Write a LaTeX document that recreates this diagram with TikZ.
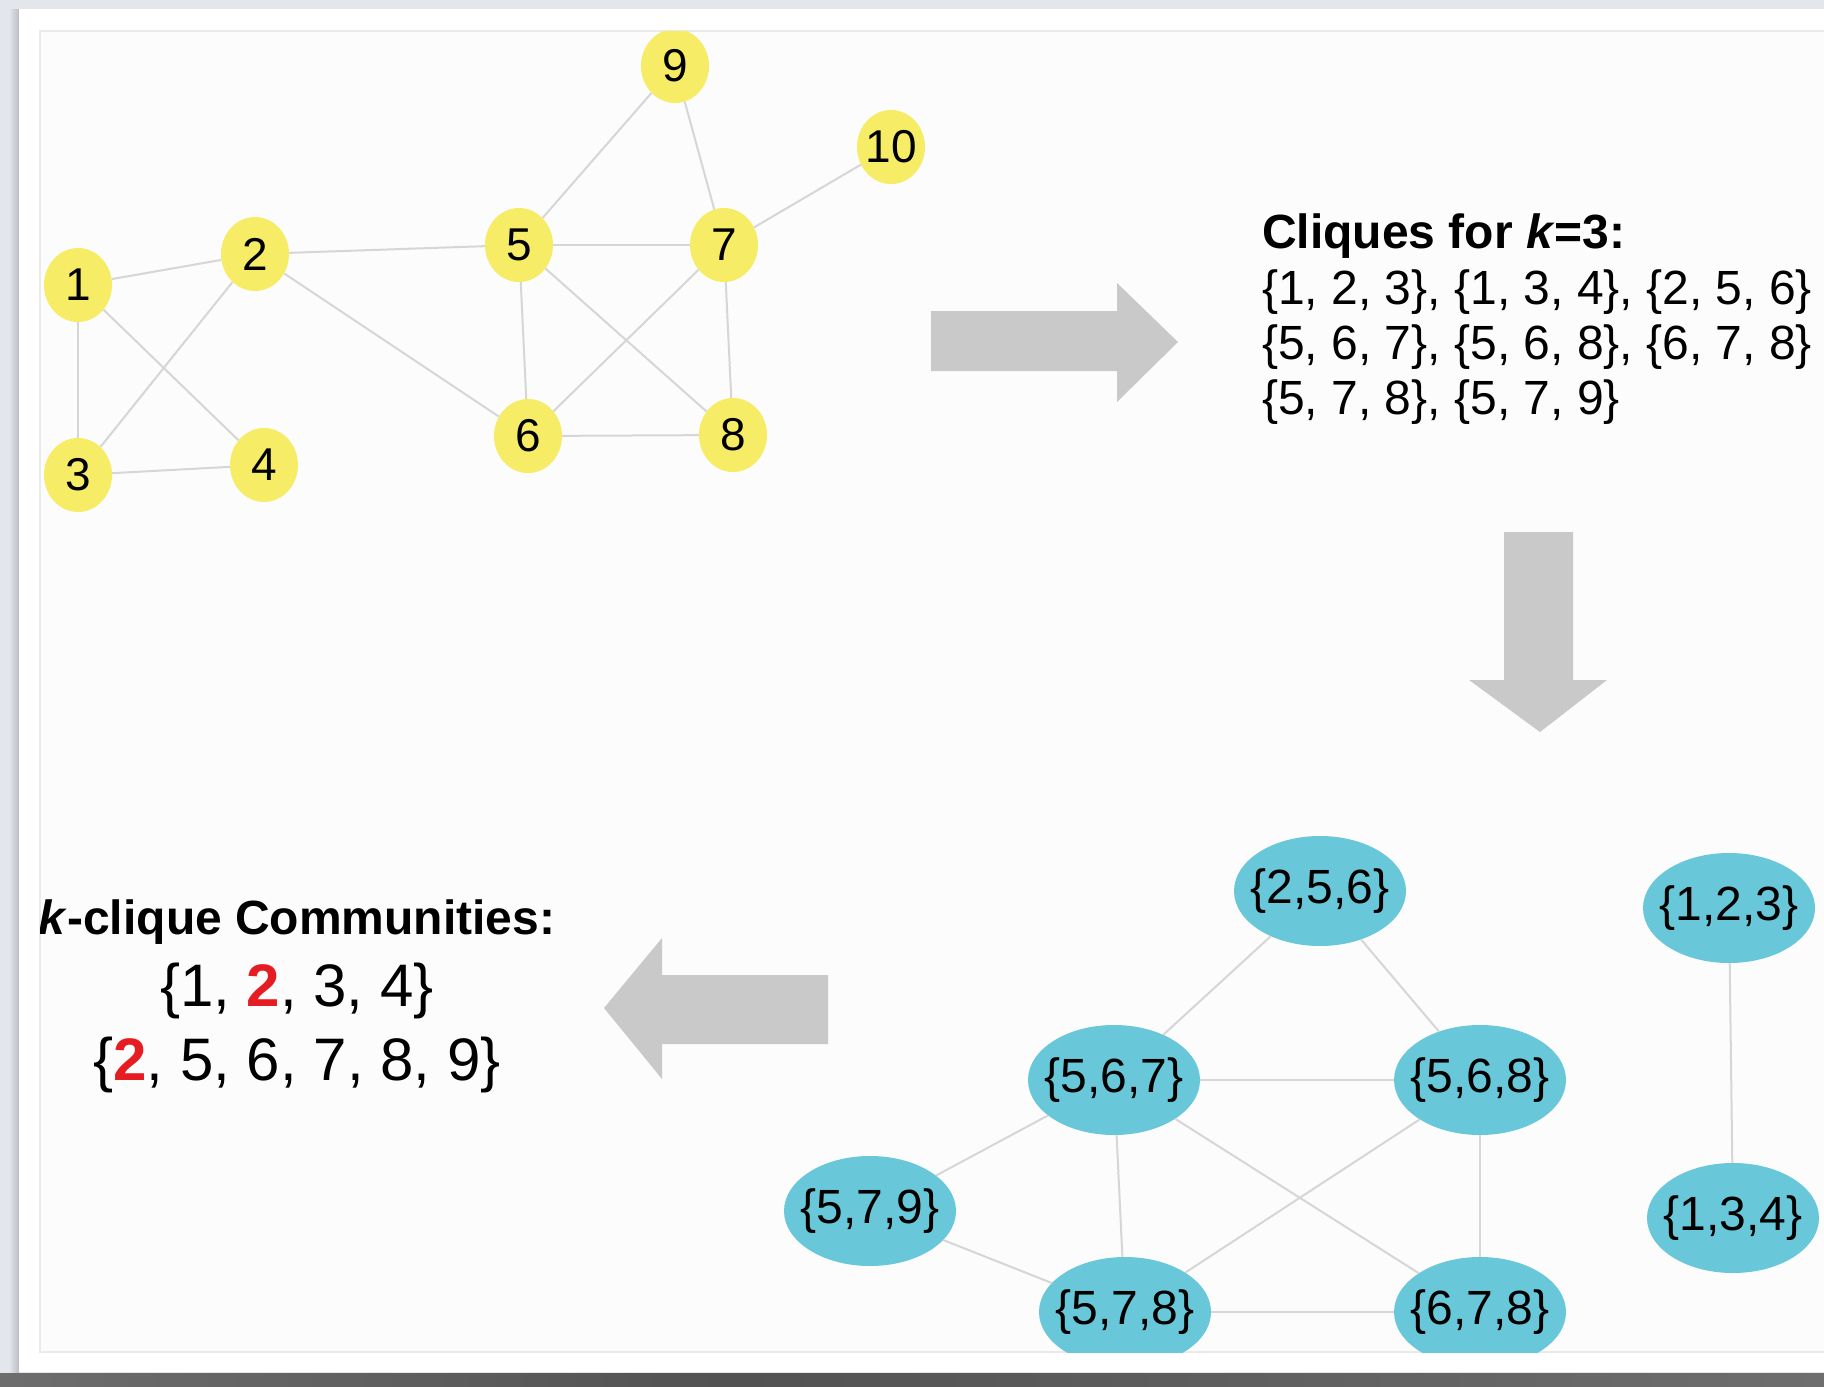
\documentclass[tikz,border=0pt]{standalone}
\usepackage{fontspec}
\setmainfont{Liberation Sans}
\usetikzlibrary{shapes.geometric}

\definecolor{outergrey}{HTML}{E3E6EB}
\definecolor{shadowgrey}{HTML}{B9BDC3}
\definecolor{panelwhite}{HTML}{FCFCFC}
\definecolor{panelline}{HTML}{EAEAEA}
\definecolor{nodeyellow}{HTML}{F6EC66}
\definecolor{nodecyan}{HTML}{68C7D8}
\definecolor{edgegrey}{HTML}{D6D6D6}
\definecolor{arrowgrey}{HTML}{C9C9C9}
\definecolor{hlred}{HTML}{E51D23}

% curled shadow under the card
\pgfdeclarehorizontalshading{cardcurl}{100bp}{%
  color(0bp)=(black!24); color(12bp)=(black!50); color(45bp)=(black!68);
  color(80bp)=(black!55); color(100bp)=(black!30)}

\begin{document}
\begin{tikzpicture}[x=1pt,y=-1pt,
  vtx/.style={ellipse, fill=nodeyellow, minimum width=68pt, minimum height=74pt,
    inner xsep=-4pt, inner ysep=0pt, font=\fontsize{46}{46}\selectfont},
  clq/.style={ellipse, fill=nodecyan, minimum width=172pt, minimum height=110pt,
    inner xsep=-9pt, inner ysep=0pt, font=\fontsize{48}{48}\selectfont},
  link/.style={draw=edgegrey, line width=2pt},
  bigarrow/.style={fill=arrowgrey},
  txt/.style={inner sep=0pt, font=\fontsize{48}{55}\selectfont},
  bigtxt/.style={inner sep=0pt, font=\fontsize{60}{72}\selectfont}]

\useasboundingbox (0,0) rectangle (1824,1387);

% page, card and its shadows
\fill[outergrey] (0,0) rectangle (1824,1387);
\shade[left color=outergrey, right color=shadowgrey] (9,9) rectangle (19,1372);
\fill[white] (19,9) rectangle (1824,1372);
\shade[shading=cardcurl] (0,1373) rectangle (1824,1387);
\fill[panelwhite] (40,31) rectangle (1824,1352);
\draw[panelline, line width=1.5pt] (1824,31) -- (40,31) -- (40,1352) -- (1824,1352);

\begin{scope}
\clip (40,31) rectangle (1824,1352);

% input graph
\node[vtx] (v1) at (78,285) {1};
\node[vtx] (v2) at (255,254) {2};
\node[vtx] (v3) at (78,475) {3};
\node[vtx] (v4) at (264,465) {4};
\node[vtx] (v5) at (519,245) {5};
\node[vtx] (v6) at (528,436) {6};
\node[vtx] (v7) at (724,245) {7};
\node[vtx] (v8) at (733,435) {8};
\node[vtx] (v9) at (675,66) {9};
\node[vtx] (v10) at (891,147) {10};

\foreach \a/\b in {v1/v2, v1/v3, v1/v4, v2/v3, v3/v4, v2/v5, v2/v6, v5/v7,
                   v5/v6, v5/v8, v5/v9, v9/v7, v7/v10, v7/v6, v7/v8, v6/v8}
  \draw[link] (\a) -- (\b);

% step arrows
\fill[bigarrow] (931,311) -- (1117,311) -- (1117,283) -- (1178,342)
  -- (1117,402) -- (1117,371) -- (931,371) -- cycle;
\fill[bigarrow] (1504,532) -- (1573,532) -- (1573,680) -- (1607,680)
  -- (1540,732) -- (1469,680) -- (1504,680) -- cycle;
\fill[bigarrow] (828,975) -- (662,975) -- (662,938) -- (604,1008)
  -- (662,1079) -- (662,1044) -- (828,1044) -- cycle;

% list of 3-cliques
\node[txt, anchor=base west] (ctitle) at (1262,248)
  {\textbf{Cliques for \textit{k}=3:}};
\node[txt, anchor=base west] (cl1) at (1262,304)
  {\{1, 2, 3\}, \{1, 3, 4\}, \{2, 5, 6\}};
\node[txt, anchor=base west] (cl2) at (1262,359)
  {\{5, 6, 7\}, \{5, 6, 8\}, \{6, 7, 8\}};
\node[txt, anchor=base west] (cl3) at (1262,414)
  {\{5, 7, 8\}, \{5, 7, 9\}};

% clique adjacency graph
\node[clq] (c256) at (1320,891) {\{2,5,6\}};
\node[clq] (c123) at (1729,908) {\{1,2,3\}};
\node[clq] (c567) at (1114,1080) {\{5,6,7\}};
\node[clq] (c568) at (1480,1080) {\{5,6,8\}};
\node[clq] (c579) at (870,1211) {\{5,7,9\}};
\node[clq] (c134) at (1733,1218) {\{1,3,4\}};
\node[clq] (c578) at (1125,1312) {\{5,7,8\}};
\node[clq] (c678) at (1480,1312) {\{6,7,8\}};

\foreach \a/\b in {c256/c567, c256/c568, c567/c568, c567/c579, c567/c578,
                   c567/c678, c568/c578, c568/c678, c579/c578, c578/c678,
                   c123/c134}
  \draw[link] (\a) -- (\b);

% resulting communities
\node[txt, anchor=base] (comtitle) at (297,934)
  {\textbf{\textit{k}-clique Communities:}};
\node[bigtxt, anchor=base] (com1) at (297,1006)
  {\{1, \textcolor{hlred}{\textbf{2}}, 3, 4\}};
\node[bigtxt, anchor=base] (com2) at (297,1080)
  {\{\textcolor{hlred}{\textbf{2}}, 5, 6, 7, 8, 9\}};
\end{scope}
\end{tikzpicture}
\end{document}
